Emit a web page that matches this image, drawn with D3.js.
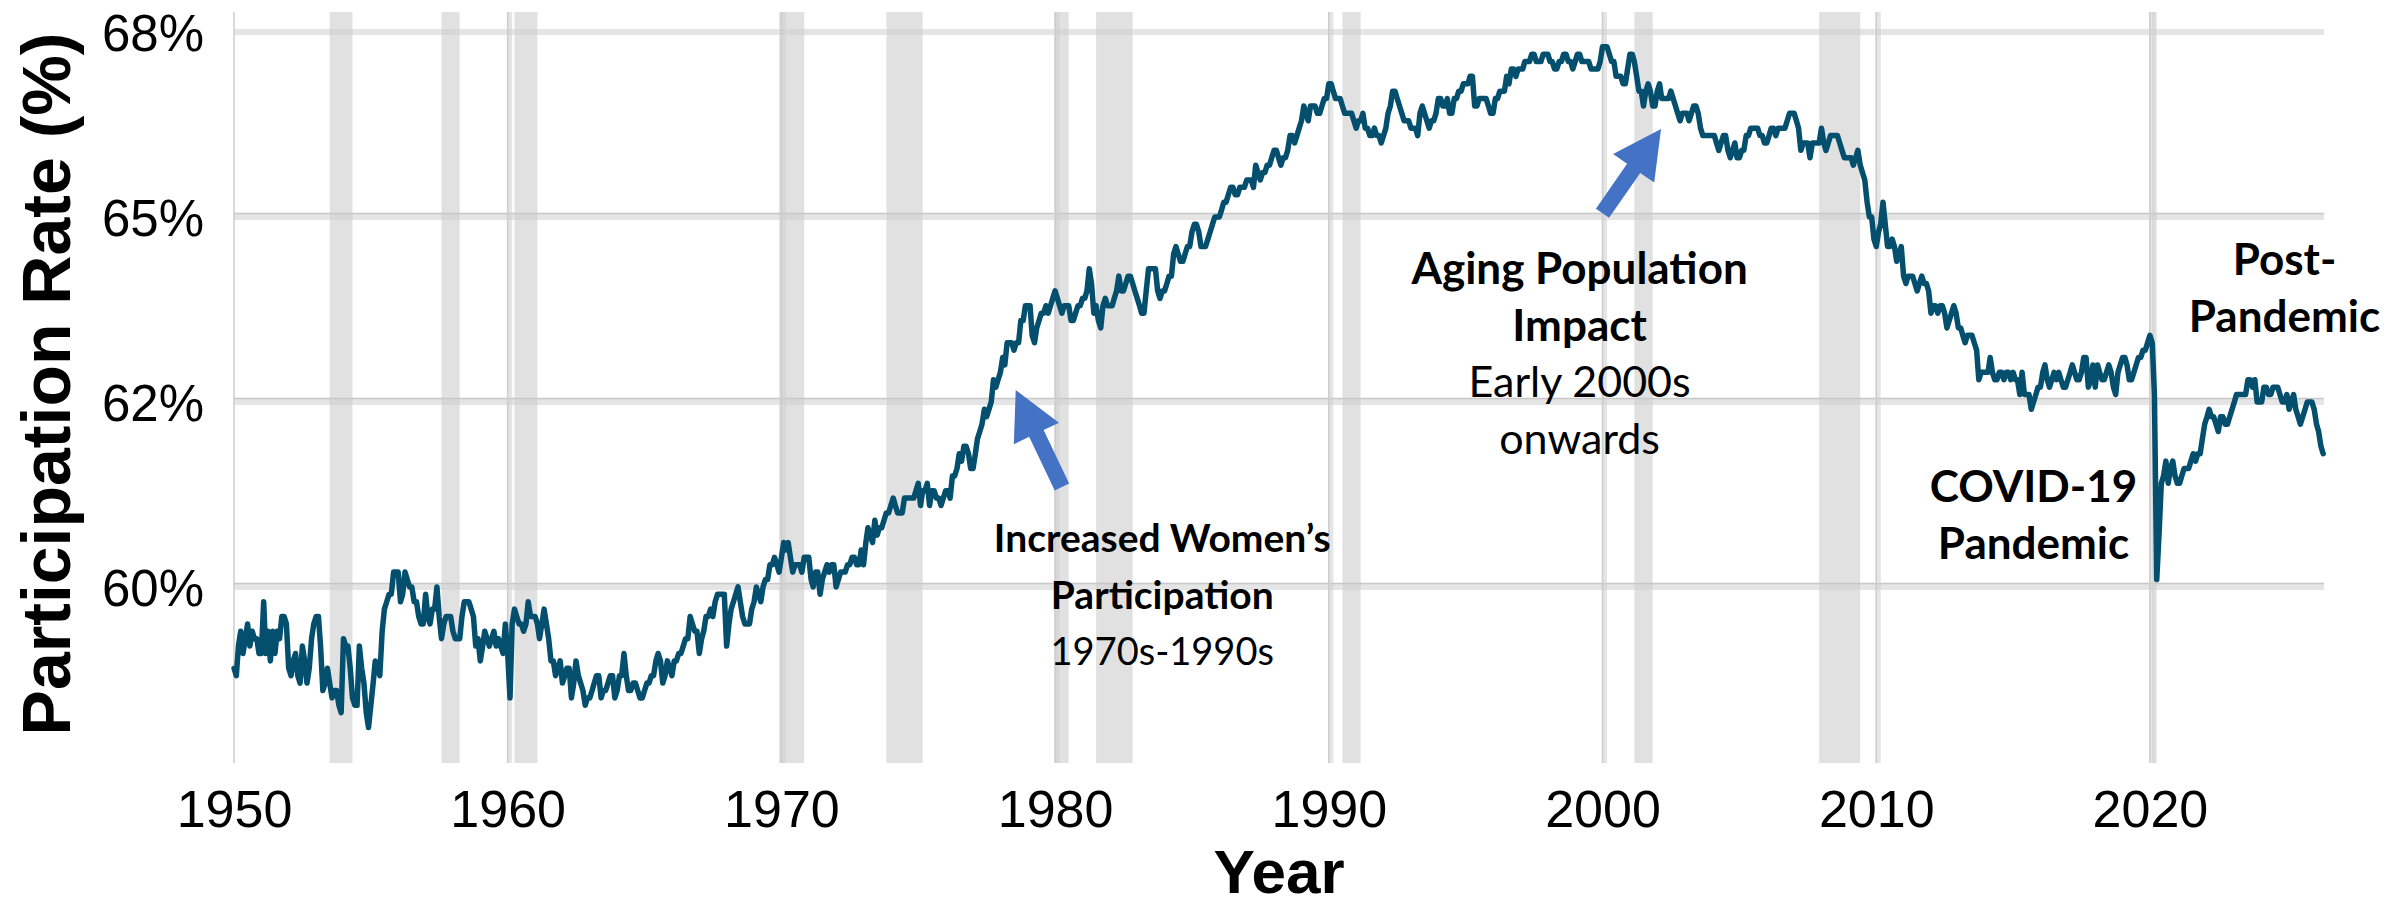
<!DOCTYPE html>
<html lang="en">
<head>
<meta charset="UTF-8">
<title>Labor Force Participation Rate</title>
<script src="https://cdn.jsdelivr.net/npm/d3@7"></script>
<style>
  body { margin: 0; background: #fff; }
  svg { display: block; }
</style>
</head>
<body>
<svg id="chart" width="2405" height="906"></svg>
<script>
// monthly participation rate (%), one array per decade, starting January 1950
const lfpr1950s = [
  58.9, 58.8, 59.2, 59.4, 59.1, 59.3, 59.5, 59.2, 59.4, 59.3, 59.3, 59.1,
  59.1, 59.8, 59.1, 59.4, 59.0, 59.4, 59.1, 59.4, 59.3, 59.6, 59.6, 59.5,
  58.9, 58.8, 59.0, 59.1, 58.8, 58.7, 59.2, 59.0, 58.7, 58.9, 59.3, 59.5,
  59.6, 59.6, 59.2, 58.6, 58.7, 58.9, 58.7, 58.5, 58.6, 58.6, 58.4, 58.3,
  59.3, 59.2, 59.2, 58.9, 58.5, 58.4, 58.4, 59.2, 58.9, 58.7, 58.3, 58.1,
  58.4, 58.7, 59.0, 58.9, 58.8, 59.4, 59.7, 59.8, 59.9, 59.9, 60.2, 60.2,
  60.2, 59.8, 59.9, 60.2, 60.1, 60.0, 60.0, 59.8, 59.8, 59.6, 59.5, 59.5,
  59.9, 59.6, 59.5, 59.7, 59.7, 60.0, 59.6, 59.3, 59.5, 59.6, 59.6, 59.6,
  59.4, 59.3, 59.3, 59.3, 59.6, 59.8, 59.8, 59.8, 59.7, 59.6, 59.2, 59.3,
  59.0, 59.2, 59.4, 59.3, 59.2, 59.3, 59.4, 59.2, 59.3, 59.2, 59.1, 59.5
]
const lfpr1960s = [
  59.1, 58.5, 59.5, 59.7, 59.6, 59.5, 59.5, 59.4, 59.5, 59.8, 59.6, 59.6,
  59.6, 59.5, 59.3, 59.5, 59.7, 59.5, 59.3, 59.0, 59.0, 58.8, 58.9, 59.0,
  58.7, 58.8, 58.9, 58.9, 58.5, 58.7, 59.0, 58.8, 58.7, 58.6, 58.4, 58.5,
  58.5, 58.6, 58.7, 58.8, 58.8, 58.5, 58.6, 58.6, 58.7, 58.8, 58.8, 58.5,
  58.6, 58.8, 58.8, 59.1, 58.8, 58.6, 58.6, 58.7, 58.7, 58.6, 58.5, 58.5,
  58.6, 58.7, 58.7, 58.8, 58.8, 59.0, 59.1, 59.0, 58.7, 58.8, 59.0, 58.9,
  58.8, 59.0, 59.0, 59.1, 59.1, 59.2, 59.3, 59.3, 59.6, 59.5, 59.4, 59.4,
  59.1, 59.3, 59.4, 59.6, 59.6, 59.7, 59.6, 59.8, 59.9, 59.9, 59.9, 59.9,
  59.2, 59.5, 59.7, 59.8, 59.9, 60.0, 59.8, 59.6, 59.5, 59.5, 59.5, 59.7,
  59.8, 60.0, 59.9, 59.8, 60.0, 60.1, 60.1, 60.3, 60.3, 60.4, 60.3, 60.2
]
const lfpr1970s = [
  60.4, 60.6, 60.5, 60.6, 60.4, 60.2, 60.3, 60.3, 60.3, 60.2, 60.4, 60.4,
  60.4, 60.1, 60.0, 60.2, 60.2, 59.9, 60.1, 60.2, 60.3, 60.2, 60.3, 60.3,
  60.0, 60.1, 60.2, 60.2, 60.2, 60.3, 60.3, 60.4, 60.4, 60.3, 60.3, 60.5,
  60.3, 60.6, 60.8, 60.7, 60.6, 60.9, 60.7, 60.8, 60.8, 60.9, 61.0, 61.0,
  61.1, 61.2, 61.1, 61.0, 61.0, 61.0, 61.2, 61.2, 61.2, 61.2, 61.2, 61.3,
  61.4, 61.1, 61.3, 61.3, 61.4, 61.1, 61.3, 61.3, 61.2, 61.2, 61.1, 61.2,
  61.3, 61.3, 61.2, 61.5, 61.5, 61.6, 61.8, 61.7, 61.9, 61.9, 61.8, 61.6,
  61.6, 61.8, 62.0, 62.1, 62.2, 62.4, 62.3, 62.4, 62.5, 62.8, 62.7, 62.8,
  62.9, 63.1, 63.0, 63.3, 63.3, 63.3, 63.2, 63.3, 63.3, 63.6, 63.6, 63.8,
  63.8, 63.8, 63.4, 63.3, 63.5, 63.6, 63.7, 63.7, 63.8, 63.7, 63.8, 63.9
]
const lfpr1980s = [
  64.0, 63.9, 63.8, 63.7, 63.8, 63.8, 63.8, 63.6, 63.6, 63.7, 63.8, 63.8,
  63.9, 63.9, 64.0, 64.3, 64.1, 63.7, 63.8, 63.6, 63.5, 63.8, 63.9, 63.8,
  63.8, 63.8, 63.9, 64.0, 64.2, 64.0, 64.0, 64.1, 64.2, 64.2, 64.1, 64.0,
  63.9, 63.8, 63.7, 63.7, 64.0, 64.3, 64.3, 64.3, 64.3, 64.0, 63.9, 64.0,
  64.0, 64.1, 64.2, 64.2, 64.5, 64.6, 64.5, 64.4, 64.4, 64.5, 64.6, 64.6,
  64.8, 64.9, 64.9, 64.8, 64.6, 64.6, 64.6, 64.7, 64.8, 64.9, 65.0, 65.0,
  65.0, 65.1, 65.2, 65.2, 65.3, 65.4, 65.4, 65.3, 65.3, 65.4, 65.4, 65.4,
  65.5, 65.5, 65.5, 65.4, 65.7, 65.6, 65.5, 65.6, 65.6, 65.7, 65.7, 65.8,
  65.9, 65.9, 65.8, 65.7, 65.8, 65.8, 65.9, 66.1, 66.1, 66.0, 66.1, 66.2,
  66.3, 66.5, 66.4, 66.3, 66.5, 66.5, 66.5, 66.4, 66.4, 66.5, 66.6, 66.6
]
const lfpr1990s = [
  66.8, 66.8, 66.7, 66.6, 66.6, 66.6, 66.5, 66.4, 66.4, 66.4, 66.4, 66.3,
  66.2, 66.3, 66.3, 66.4, 66.2, 66.2, 66.1, 66.1, 66.2, 66.1, 66.1, 66.0,
  66.1, 66.2, 66.4, 66.5, 66.7, 66.7, 66.6, 66.5, 66.4, 66.3, 66.3, 66.3,
  66.2, 66.2, 66.2, 66.1, 66.4, 66.5, 66.4, 66.3, 66.2, 66.3, 66.3, 66.4,
  66.6, 66.6, 66.5, 66.5, 66.6, 66.4, 66.4, 66.6, 66.6, 66.7, 66.7, 66.8,
  66.8, 66.8, 66.9, 66.9, 66.5, 66.5, 66.6, 66.6, 66.6, 66.6, 66.5, 66.4,
  66.4, 66.6, 66.6, 66.7, 66.7, 66.7, 66.9, 66.8, 67.0, 67.0, 66.9, 67.0,
  67.0, 67.0, 67.1, 67.1, 67.1, 67.2, 67.2, 67.1, 67.1, 67.1, 67.2, 67.2,
  67.2, 67.1, 67.1, 67.0, 67.0, 67.1, 67.1, 67.2, 67.2, 67.1, 67.1, 67.0,
  67.1, 67.2, 67.2, 67.1, 67.1, 67.1, 67.1, 67.0, 67.0, 67.0, 67.0, 67.1
]
const lfpr2000s = [
  67.3, 67.3, 67.3, 67.2, 67.1, 67.1, 66.9, 66.9, 66.9, 66.8, 66.8, 67.0,
  67.2, 67.2, 67.1, 66.9, 66.7, 66.7, 66.5, 66.7, 66.8, 66.7, 66.5, 66.5,
  66.7, 66.8, 66.6, 66.6, 66.6, 66.6, 66.7, 66.6, 66.5, 66.4, 66.3, 66.4,
  66.4, 66.4, 66.3, 66.4, 66.5, 66.5, 66.4, 66.2, 66.1, 66.1, 66.1, 66.1,
  66.1, 66.1, 66.0, 65.9, 66.0, 66.1, 66.1, 65.9, 65.8, 65.9, 66.0, 65.8,
  65.8, 65.9, 65.9, 66.1, 66.1, 66.2, 66.2, 66.2, 66.2, 66.1, 66.1, 66.0,
  66.0, 66.1, 66.2, 66.2, 66.1, 66.2, 66.2, 66.2, 66.2, 66.3, 66.4, 66.4,
  66.4, 66.3, 66.2, 65.9, 66.0, 66.0, 66.0, 65.8, 66.0, 66.0, 66.0, 66.0,
  66.2, 66.0, 65.9, 66.0, 66.1, 66.1, 66.1, 66.1, 66.0, 65.9, 65.8, 65.8,
  65.8, 65.8, 65.7, 65.8, 65.9, 65.7, 65.6, 65.5, 65.2, 65.0, 65.0, 64.7
]
const lfpr2010s = [
  64.6, 64.8, 64.9, 65.2, 64.9, 64.6, 64.6, 64.7, 64.6, 64.4, 64.5, 64.6,
  64.2, 64.1, 64.2, 64.2, 64.2, 64.1, 64.0, 64.1, 64.2, 64.1, 64.1, 64.0,
  63.7, 63.8, 63.8, 63.7, 63.8, 63.8, 63.7, 63.5, 63.6, 63.7, 63.8, 63.7,
  63.5, 63.5, 63.4, 63.3, 63.4, 63.4, 63.4, 63.3, 63.2, 62.8, 62.9, 62.9,
  62.9, 62.9, 63.1, 62.9, 62.8, 62.8, 62.9, 62.9, 62.8, 62.9, 62.9, 62.8,
  62.9, 62.8, 62.8, 62.6, 62.9, 62.6, 62.6, 62.6, 62.4, 62.5, 62.6, 62.7,
  62.7, 62.9, 63.0, 62.8, 62.7, 62.8, 62.9, 62.8, 62.9, 62.8, 62.7, 62.7,
  62.8, 62.9, 63.0, 62.9, 62.8, 62.8, 62.9, 63.1, 63.1, 62.7, 62.8, 63.0,
  62.7, 63.0, 62.9, 62.8, 62.8, 62.9, 63.0, 62.9, 62.7, 62.6, 62.9, 63.0,
  63.1, 63.1, 63.0, 62.8, 62.8, 62.9, 63.0, 63.1, 63.1, 63.2, 63.2, 63.3
]
const lfpr2020s = [
  63.4, 63.3, 62.6, 60.1, 60.7, 61.4, 61.5, 61.7, 61.4, 61.6, 61.7, 61.5,
  61.4, 61.4, 61.5, 61.6, 61.6, 61.6, 61.7, 61.8, 61.7, 61.8, 61.8, 62.0,
  62.2, 62.3, 62.4, 62.3, 62.3, 62.2, 62.1, 62.3, 62.3, 62.2, 62.2, 62.3,
  62.4, 62.5, 62.6, 62.6, 62.6, 62.6, 62.6, 62.8, 62.8, 62.7, 62.8, 62.5,
  62.5, 62.5, 62.7, 62.7, 62.6, 62.6, 62.7, 62.7, 62.7, 62.6, 62.5, 62.5,
  62.6, 62.4, 62.5, 62.6, 62.4, 62.3, 62.2, 62.3, 62.4, 62.5, 62.5, 62.5,
  62.4, 62.2, 62.1, 61.9, 61.8
]

// recession periods (shaded)
const recessionStart = ["1953-07", "1957-08", "1960-04", "1969-12", "1973-11", "1980-01", "1981-07", "1990-07", "2001-03", "2007-12", "2020-02"]
const recessionEnd   = ["1954-05", "1958-04", "1961-02", "1970-11", "1975-03", "1980-07", "1982-11", "1991-03", "2001-11", "2009-06", "2020-04"]

const yTicks = [60, 62.5, 65, 67.5]
const yTickLabels = ["60%", "62%", "65%", "68%"]
const xTicks = [1950, 1960, 1970, 1980, 1990, 2000, 2010, 2020]

const values = [].concat(lfpr1950s, lfpr1960s, lfpr1970s, lfpr1980s, lfpr1990s, lfpr2000s, lfpr2010s, lfpr2020s)
const start = new Date(1950, 0, 1)
const data = values.map((v, i) => ({ date: d3.timeMonth.offset(start, i), value: v }))

const parseMonth = d3.timeParse("%Y-%m")
const recessions = recessionStart.map((s, i) => ({ start: parseMonth(s), end: parseMonth(recessionEnd[i]) }))

const svg = d3.select("#chart")
const pLeft = 234, pRight = 2324, pTop = 12, pBottom = 763

const x = d3.scaleTime()
  .domain([start, new Date(2026, 4, 12)])
  .range([pLeft, pRight])

const y = d3.scaleLinear()
  .domain([57.62, 67.77])
  .range([pBottom, pTop])

// recession shading
svg.append("g").selectAll("rect")
  .data(recessions)
  .enter()
  .append("rect")
  .attr("x", d => x(d.start))
  .attr("y", pTop)
  .attr("width", d => x(d.end) - x(d.start))
  .attr("height", pBottom - pTop)
  .style("fill", "#c4c4c4")
  .style("opacity", 0.5)

// grid
const grid = svg.append("g")
grid.selectAll(".hgrid")
  .data(yTicks)
  .enter()
  .append("line")
  .attr("x1", pLeft)
  .attr("x2", pRight)
  .attr("y1", d => y(d))
  .attr("y2", d => y(d))
  .style("stroke", "#d0d0d0")
  .style("stroke-width", 6)
  .style("opacity", 0.55)
grid.selectAll(".hedge")
  .data(yTicks.filter(d => d < 67.5))
  .enter()
  .append("line")
  .attr("x1", pLeft)
  .attr("x2", pRight)
  .attr("y1", d => y(d) - 3.5)
  .attr("y2", d => y(d) - 3.5)
  .style("stroke", "#c8c8c8")
  .style("stroke-width", 1.5)
grid.selectAll(".vgrid")
  .data(xTicks.filter(d => d > 1950))
  .enter()
  .append("line")
  .attr("x1", d => x(new Date(d, 0, 1)) + 2)
  .attr("x2", d => x(new Date(d, 0, 1)) + 2)
  .attr("y1", pTop)
  .attr("y2", pBottom)
  .style("stroke", "#d0d0d0")
  .style("stroke-width", 5)
  .style("opacity", 0.55)
grid.selectAll(".vedge")
  .data(xTicks)
  .enter()
  .append("line")
  .attr("x1", d => x(new Date(d, 0, 1)))
  .attr("x2", d => x(new Date(d, 0, 1)))
  .attr("y1", pTop)
  .attr("y2", pBottom)
  .style("stroke", "#cccccc")
  .style("stroke-width", 1.5)

// the series
const line = d3.line()
  .x(d => x(d.date))
  .y(d => y(d.value))

svg.append("path")
  .datum(data)
  .attr("d", line)
  .style("fill", "none")
  .style("stroke", "#034f6d")
  .style("stroke-width", 5.5)
  .style("stroke-linejoin", "round")
  .style("stroke-linecap", "round")

// axes (labels only, no domain or ticks)
const yAxis = d3.axisLeft(y).tickValues(yTicks).tickSize(0).tickPadding(30)
  .tickFormat((d, i) => yTickLabels[i])
const gy = svg.append("g").attr("transform", `translate(${pLeft},0)`).call(yAxis)
gy.select(".domain").remove()
gy.selectAll("text")
  .attr("dy", "0.36em")
  .style("font-family", "'Liberation Sans', Arial, sans-serif")
  .style("font-size", "51px")
  .style("fill", "#000")

const xAxis = d3.axisBottom(x).tickValues(xTicks.map(t => new Date(t, 0, 1))).tickSize(0).tickPadding(0)
  .tickFormat(d3.timeFormat("%Y"))
const gx = svg.append("g").attr("transform", `translate(0,${pBottom})`).call(xAxis)
gx.select(".domain").remove()
gx.selectAll("text")
  .attr("y", 64)
  .attr("dy", 0)
  .style("font-family", "'Liberation Sans', Arial, sans-serif")
  .style("font-size", "52px")
  .style("fill", "#000")

svg.append("text")
  .attr("transform", `translate(70,384) rotate(-90)`)
  .attr("text-anchor", "middle")
  .style("font-family", "'Liberation Sans', Arial, sans-serif")
  .style("font-weight", "bold")
  .style("font-size", "68px")
  .text("Participation Rate (%)")

svg.append("text")
  .attr("x", (pLeft + pRight) / 2)
  .attr("y", 893)
  .attr("text-anchor", "middle")
  .style("font-family", "'Liberation Sans', Arial, sans-serif")
  .style("font-weight", "bold")
  .style("font-size", "62px")
  .text("Year")

// annotations
function arrow(x1, y1, x2, y2) {
  const dx = x2 - x1, dy = y2 - y1
  const len = Math.sqrt(dx * dx + dy * dy)
  const ux = dx / len, uy = dy / len
  const px = -uy, py = ux
  const hl = 48, hw = 25, sw = 8
  const bx = x2 - ux * hl, by = y2 - uy * hl
  const pts = [
    [x1 + px * sw, y1 + py * sw],
    [bx + px * sw, by + py * sw],
    [bx + px * hw, by + py * hw],
    [x2, y2],
    [bx - px * hw, by - py * hw],
    [bx - px * sw, by - py * sw],
    [x1 - px * sw, y1 - py * sw]
  ]
  svg.append("path")
    .attr("d", "M" + pts.map(p => p.join(",")).join("L") + "Z")
    .style("fill", "#4472c4")
}
arrow(x(new Date(1980, 3, 1)), y(61.35), x(new Date(1978, 6, 25)), y(62.66))
arrow(x(new Date(2000, 0, 1)), y(65.05), x(new Date(2002, 1, 20)), y(66.19))

function note(cx, baseline, size, lines) {
  lines.forEach((l, i) => {
    svg.append("text")
      .attr("x", cx)
      .attr("y", baseline + i * 56.5)
      .attr("text-anchor", "middle")
      .style("font-family", "Lato, 'Open Sans', sans-serif")
      .style("font-weight", l.bold ? "bold" : "normal")
      .style("font-size", (l.bold ? size : size - 1) + "px")
      .style("fill", "#000")
      .text(l.text)
  })
}
note(x(new Date(1983, 11, 1)), 552, 39, [
  { text: "Increased Women\u2019s", bold: true },
  { text: "Participation", bold: true },
  { text: "1970s-1990s", bold: false }
])
note(x(new Date(1999, 2, 1)), 284, 44, [
  { text: "Aging Population", bold: true },
  { text: "Impact", bold: true },
  { text: "Early 2000s", bold: false },
  { text: "onwards", bold: false }
])
note(x(new Date(2015, 9, 1)), 502, 44, [
  { text: "COVID-19", bold: true },
  { text: "Pandemic", bold: true }
])
note(x(new Date(2024, 11, 1)), 275, 44, [
  { text: "Post-", bold: true },
  { text: "Pandemic", bold: true }
])
</script>
</body>
</html>
